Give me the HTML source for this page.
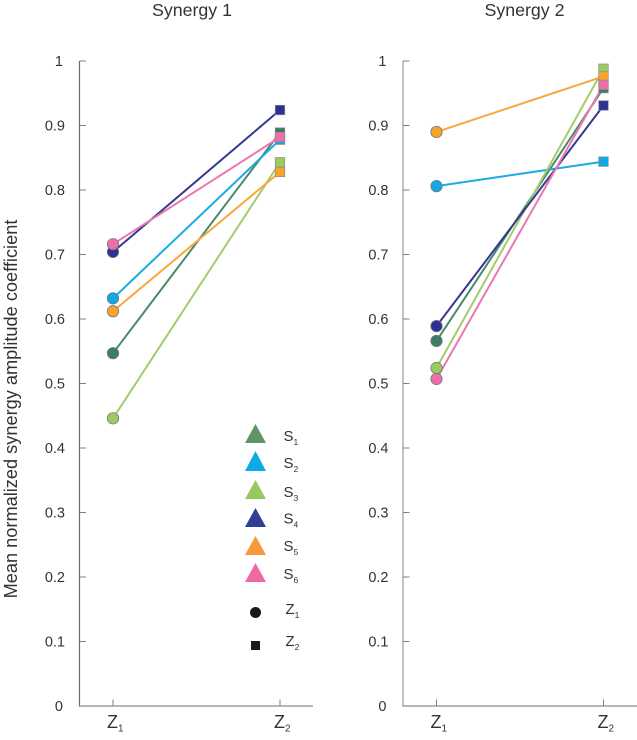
<!DOCTYPE html>
<html>
<head>
<meta charset="utf-8">
<title>Mean normalized synergy amplitude coefficient</title>
<style>
html,body{margin:0;padding:0;background:#fff;}
svg{display:block;}
text{font-family:"Liberation Sans",sans-serif;fill:#333;}
</style>
</head>
<body>
<svg id="chart" width="637" height="740" viewBox="0 0 637 740" xmlns="http://www.w3.org/2000/svg">
  <text transform="translate(17,409) rotate(-90)" text-anchor="middle" font-size="18.2">Mean normalized synergy amplitude coefficient</text>
  <g id="plots"></g>
  <g>
    <g><polygon points="255.5,424 245,443 266,443" fill="#5f9468"/><text x="283.5" y="441" font-size="15">S<tspan font-size="8.5" dy="4">1</tspan></text></g>
    <g><polygon points="255.5,451 245,471 266,471" fill="#0fa9e6"/><text x="283.5" y="468" font-size="15">S<tspan font-size="8.5" dy="4">2</tspan></text></g>
    <g><polygon points="255.5,480 245,499 266,499" fill="#99c85f"/><text x="283.5" y="497" font-size="15">S<tspan font-size="8.5" dy="4">3</tspan></text></g>
    <g><polygon points="255.5,508 245,527 266,527" fill="#2e3f95"/><text x="283.5" y="523.5" font-size="15">S<tspan font-size="8.5" dy="4">4</tspan></text></g>
    <g><polygon points="255.5,536 245,555 266,555" fill="#f7983a"/><text x="283.5" y="551" font-size="15">S<tspan font-size="8.5" dy="4">5</tspan></text></g>
    <g><polygon points="255.5,563 245,582 266,582" fill="#ef6aa3"/><text x="283.5" y="579" font-size="15">S<tspan font-size="8.5" dy="4">6</tspan></text></g>
    <g><circle cx="255.5" cy="612.5" r="5.5" fill="#1a1a1a"/><text x="285.5" y="614" font-size="15">Z<tspan font-size="8.5" dy="4">1</tspan></text></g>
    <g><rect x="251" y="641" width="9" height="9" fill="#1a1a1a"/><text x="285.5" y="646" font-size="15">Z<tspan font-size="8.5" dy="4">2</tspan></text></g>
  </g>
</svg>
<script>
const categories = ['Z1', 'Z2'];
const yTicks = [0, 0.1, 0.2, 0.3, 0.4, 0.5, 0.6, 0.7, 0.8, 0.9, 1];
const seriesNames = ['s1', 's2', 's3', 's4', 's5', 's6'];
const seriesColors = ['#3f7d60', '#0fa9e6', '#9ccb62', '#2e3191', '#f7a42c', '#ec6fa9'];
const lineColors = ['#4a8a68', '#1cabe2', '#a3cc6c', '#34398f', '#f5a936', '#ea78ae'];
const synergy1Z1 = [0.547, 0.632, 0.446, 0.704, 0.612, 0.716];
const synergy1Z2 = [0.889, 0.878, 0.843, 0.924, 0.828, 0.882];
const synergy2Z1 = [0.566, 0.806, 0.524, 0.589, 0.890, 0.507];
const synergy2Z2 = [0.958, 0.844, 0.988, 0.931, 0.976, 0.963];

const NS = 'http://www.w3.org/2000/svg';
const plotsRoot = document.getElementById('plots');
const yScale = function (v) { return 706 - v * 645; };

function mk(parent, tag, attrs, txt) {
  const el = document.createElementNS(NS, tag);
  for (const k in attrs) el.setAttribute(k, attrs[k]);
  if (txt !== undefined) el.textContent = txt;
  parent.appendChild(el);
  return el;
}

function drawPanel(key, title, titleX, axisX, endX, axisColor, z1Vals, z2Vals) {
  const g = mk(plotsRoot, 'g', {});
  
  
  const xScale = function (i) { return axisX + 33.5 + i * 167; };

  const t = mk(g, 'text', { x: titleX, y: 16, 'text-anchor': 'middle', 'font-size': 17.8 }, title);
  
  

  const yAxis = mk(g, 'line', { x1: axisX, x2: axisX, y1: yScale(1), y2: yScale(0) + 0.6, stroke: axisColor, 'stroke-width': 1.2 });
  
  
  const xAxis = mk(g, 'line', { x1: axisX, x2: endX, y1: yScale(0), y2: yScale(0), stroke: '#8a8a8a', 'stroke-width': 1.2 });
  
  

  yTicks.forEach(function (v) {
    if (v > 0) {
      const tick = mk(g, 'line', { x1: axisX, x2: axisX + 6.5, y1: yScale(v), y2: yScale(v), stroke: '#808080', 'stroke-width': 1 });
      
      
    }
    const offset = Number.isInteger(v) ? 16.5 : 14.5;
    const lab = mk(g, 'text', { x: axisX - offset, y: yScale(v) + 5, 'text-anchor': 'end', 'font-size': 14.5 }, String(v));
    
    
  });

  categories.forEach(function (c, i) {
    const x = xScale(i);
    const tick = mk(g, 'line', { x1: x, x2: x, y1: yScale(0) - 6.5, y2: yScale(0), stroke: '#808080', 'stroke-width': 1 });
    
    
    const lab = mk(g, 'text', { x: x - 6, y: 728, 'font-size': 18 }, c.charAt(0));
    
    
    const sub = mk(lab, 'tspan', { 'font-size': 10, dy: 3.5 }, c.slice(1));
    
    
  });

  seriesNames.forEach(function (name, i) {
    const ln = mk(g, 'line', { x1: xScale(0), y1: yScale(z1Vals[i]), x2: xScale(1), y2: yScale(z2Vals[i]), stroke: lineColors[i], 'stroke-width': 2 });
    
    
  });
  seriesNames.forEach(function (name, i) {
    const c = mk(g, 'circle', { cx: xScale(0), cy: yScale(z1Vals[i]), r: 5.7, fill: seriesColors[i], stroke: '#77777f', 'stroke-width': 0.8 });
    
    
  });
  seriesNames.forEach(function (name, i) {
    const r = mk(g, 'rect', { x: xScale(1) - 4.75, y: yScale(z2Vals[i]) - 4.75, width: 9.5, height: 9.5, fill: seriesColors[i], stroke: '#8a8a90', 'stroke-width': 0.7 });
    
    
  });
}

drawPanel('synergy-1', 'Synergy 1', 192, 79.5, 313, '#6a6a6a', synergy1Z1, synergy1Z2);
drawPanel('synergy-2', 'Synergy 2', 524.5, 403, 637, '#999999', synergy2Z1, synergy2Z2);
</script>
</body>
</html>
